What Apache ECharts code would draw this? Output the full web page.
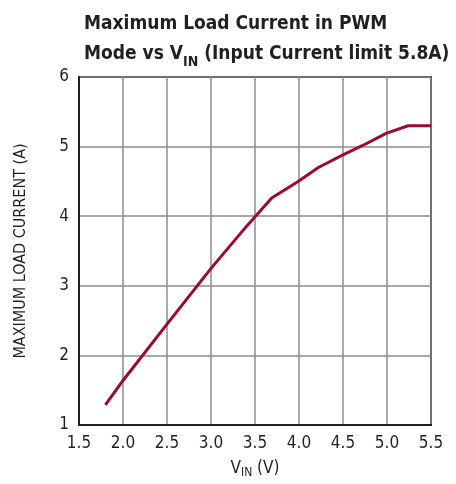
<!DOCTYPE html>
<html><head><meta charset="utf-8">
<script src="https://cdn.jsdelivr.net/npm/echarts@6/dist/echarts.min.js"></script>
<style>html,body{margin:0;padding:0;background:#fff}#c{width:456px;height:484px}</style>
</head><body><div id="c"></div>
<script>
const vin = [1.8, 2.0, 2.5, 3.0, 3.4, 3.69, 3.99, 4.22, 4.5, 4.73, 4.99, 5.24, 5.5];
const current = [1.29, 1.64, 2.45, 3.25, 3.85, 4.26, 4.5, 4.7, 4.88, 5.02, 5.19, 5.3, 5.3];
const xTicks = [1.5, 5.5, 0.5];
const yTicks = [1, 6, 1];
const FONT = '"DejaVu Sans Condensed", "Liberation Sans", Arial, sans-serif';
const chart = echarts.init(document.getElementById('c'));
chart.setOption({
  animation: false,
  title: {
    text: 'Maximum Load Current in PWM\nMode vs V{sub|IN} (Input Current limit 5.8A)',
    left: 79, top: 4,
    textStyle: {
      fontFamily: FONT, fontWeight: 'bold', fontSize: 19, color: '#231f20', lineHeight: 30,
      rich: { sub: { fontFamily: FONT, fontWeight: 'bold', fontSize: 14, color: '#231f20', verticalAlign: 'bottom', padding: [10, 0, 0, 0] } }
    }
  },
  grid: { left: 79, right: 25, top: 77, bottom: 55, show: true, borderColor: '#231f20', borderWidth: 2 },
  xAxis: {
    type: 'value', min: xTicks[0], max: xTicks[1], interval: xTicks[2],
    axisLine: { show: true, lineStyle: { color: '#231f20', width: 2 } },
    axisTick: { show: false },
    splitLine: { lineStyle: { color: '#8c8c8c', width: 1.5 } },
    axisLabel: { fontFamily: FONT, fontSize: 17, color: '#231f20', margin: 10, formatter: v => v.toFixed(1) },
    name: 'V{sub|IN} (V)', nameLocation: 'middle', nameGap: 34,
    nameTextStyle: { fontFamily: FONT, fontSize: 17, color: '#231f20',
      rich: { sub: { fontFamily: FONT, fontSize: 12, color: '#231f20', padding: [8, 0, 0, 0] } } }
  },
  yAxis: {
    type: 'value', min: yTicks[0], max: yTicks[1], interval: yTicks[2],
    axisLine: { show: true, lineStyle: { color: '#231f20', width: 2 } },
    axisTick: { show: false },
    splitLine: { lineStyle: { color: '#8c8c8c', width: 1.5 } },
    axisLabel: { fontFamily: FONT, fontSize: 17, color: '#231f20', margin: 10 },
    name: 'MAXIMUM LOAD CURRENT (A)', nameLocation: 'middle', nameGap: 50,
    nameTextStyle: { fontFamily: FONT, fontSize: 16, color: '#231f20' }
  },
  series: [{
    type: 'line', data: vin.map((x, i) => [x, current[i]]),
    symbol: 'none', lineStyle: { color: '#9b0a32', width: 3 }
  }]
});
</script></body></html>
